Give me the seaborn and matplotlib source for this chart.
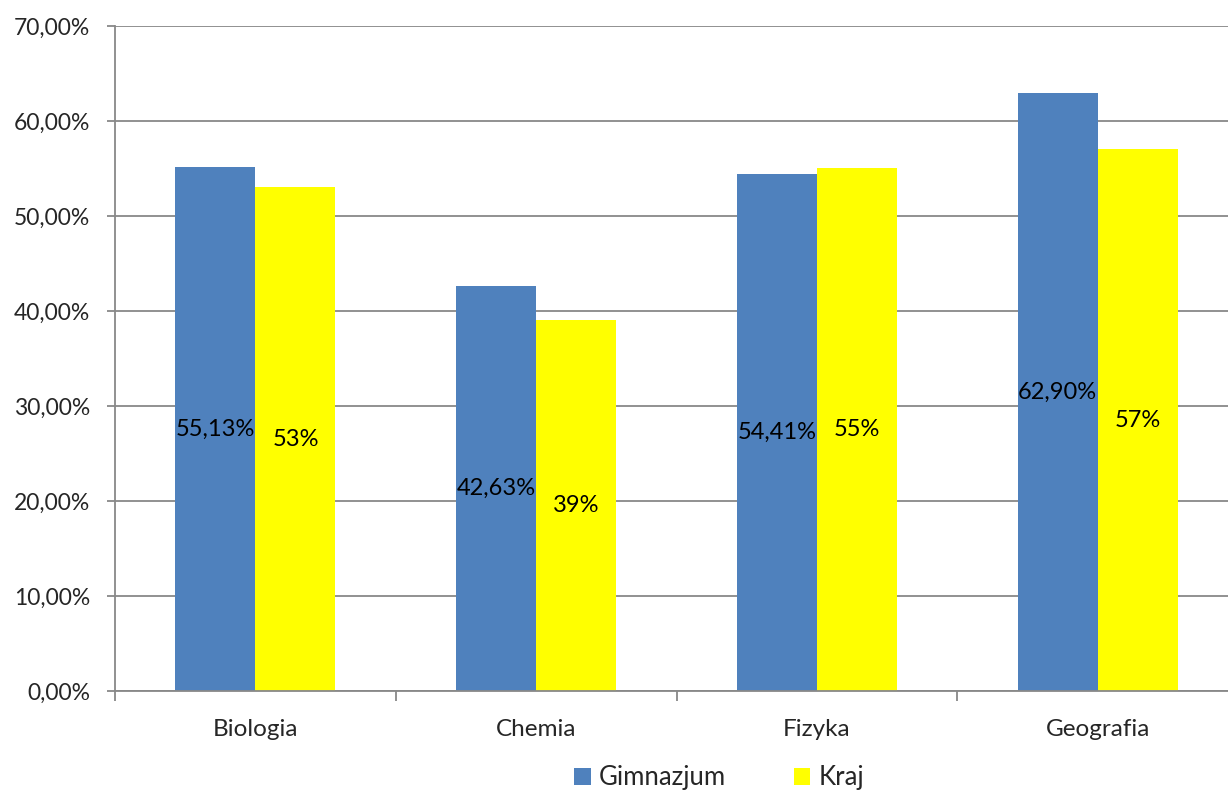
import matplotlib
matplotlib.use("Agg")
import matplotlib.pyplot as plt
import seaborn as sns
import pandas as pd
from matplotlib.ticker import FuncFormatter, FixedLocator
from matplotlib.patches import Patch

categories = ["Biologia", "Chemia", "Fizyka", "Geografia"]
series_names = ["Gimnazjum", "Kraj"]
gimnazjum = [55.13, 42.63, 54.41, 62.90]
kraj = [53, 39, 55, 57]
gimnazjum_labels = ["55,13%", "42,63%", "54,41%", "62,90%"]
kraj_labels = ["53%", "39%", "55%", "57%"]
colors = ["#4F81BD", "#FFFF00"]

df = pd.DataFrame({
    "subject": categories * 2,
    "series": [series_names[0]] * 4 + [series_names[1]] * 4,
    "value": gimnazjum + kraj,
})

sns.set_style("white")
plt.rcParams["font.family"] = ["Lato", "DejaVu Sans"]

fig = plt.figure(figsize=(12.28, 7.92), dpi=100)
ax = fig.add_axes([0.0937, 0.1275, 0.9145, 0.8397])

sns.barplot(data=df, x="subject", y="value", hue="series", order=categories,
            hue_order=series_names, palette=colors, width=0.57, gap=0,
            saturation=1, ax=ax, legend=False, linewidth=0)

for cont, labs in zip(ax.containers, [gimnazjum_labels, kraj_labels]):
    ax.bar_label(cont, labels=labs, label_type="center", fontsize=17, color="black")

ax.set_ylim(0, 70)
ax.set_xlim(-0.5, 3.5)
ax.yaxis.set_major_locator(FixedLocator(range(0, 71, 10)))
ax.yaxis.set_major_formatter(FuncFormatter(lambda v, p: f"{v:.2f}".replace(".", ",") + "%"))
ax.grid(axis="y", color="#888888", linewidth=1.3)
ax.set_axisbelow(True)
for s in ["top", "right"]:
    ax.spines[s].set_visible(False)
for s in ["left", "bottom"]:
    ax.spines[s].set_color("#888888")
    ax.spines[s].set_linewidth(1.3)
ax.set_xlabel("")
ax.set_ylabel("")
ax.tick_params(axis="y", which="major", length=6, width=1.3, color="#888888",
               labelsize=16.5, pad=12, left=True, direction="out")
ax.tick_params(axis="x", which="major", length=0, labelsize=17.5, pad=20)
ax.set_xticks(range(4))
ax.set_xticklabels(categories)
ax.set_xticks([-0.5, 0.5, 1.5, 2.5, 3.5], minor=True)
ax.tick_params(axis="x", which="minor", length=7, width=1.3, color="#888888",
               bottom=True, direction="out")

handles = [Patch(facecolor=c, edgecolor="none") for c in colors]
fig.legend(handles, series_names, loc="center", bbox_to_anchor=(0.5855, 0.0177),
           ncol=2, frameon=False, fontsize=18.5, handlelength=0.65, handleheight=0.65,
           handletextpad=0.3, columnspacing=2.65)

fig.savefig("out.png", dpi=100, facecolor="white")
